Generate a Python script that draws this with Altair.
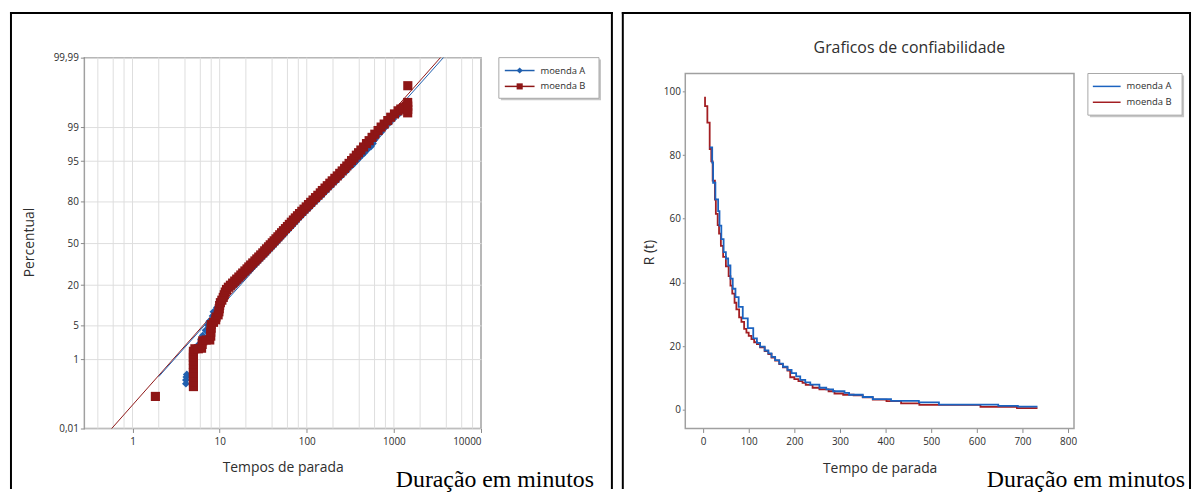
import altair as alt
import pandas as pd
from statistics import NormalDist

SERIES = ["moenda A", "moenda B"]
CAPTION = ["Duração em minutos"]
TITLE_RIGHT = ["Graficos de confiabilidade"]

# ---------------- Left panel: probability plot (minutes, cumulative %) ----------------
a_time = [4.1, 4.1, 4.15, 4.2, 5.0, 5.0, 5.0, 5.0, 5.6, 6.1, 6.4, 6.9, 7.3, 7.6, 8.3, 8.5, 9.3, 10.0, 10.6, 11.2, 12.3,
          14.1, 15.8, 17.6, 19.6, 21.8, 24.2, 26.9, 29.9, 33.2, 36.8, 40.8, 45.0, 49.6, 54.8, 60.5, 67.2, 74.5, 82.8,
          92.5, 104, 117, 132, 150, 170, 193, 220, 251, 287, 327, 350, 375, 400, 430, 460, 500, 545, 575, 605, 645,
          717, 800, 890, 985, 1120, 1250, 1330]
a_pct = [0.24, 0.3, 0.36, 0.42, 0.55, 0.8, 1.1, 1.5, 2.0, 2.7, 3.2, 4.0, 5.0, 5.8, 7.2, 8.4, 9.8, 11.5, 13.5, 15.5, 17.2,
         18.8, 21.1, 23.5, 26.1, 28.8, 31.6, 34.5, 37.5, 40.6, 43.8, 47.0, 50.2, 53.4, 56.6, 59.8, 63.0, 66.2, 69.3,
         72.3, 75.2, 78.0, 80.6, 83.1, 85.4, 87.5, 89.4, 91.1, 92.6, 93.9, 94.5, 95.1, 95.6, 96.1, 96.5, 97.0, 97.35,
         97.7, 98.1, 98.4, 98.7, 99.0, 99.2, 99.36, 99.5, 99.62, 99.7]

b_time = [1.83, 5.0, 5.0, 5.0, 5.0, 5.0, 5.0, 5.0, 5.0, 5.0, 5.0, 5.2, 5.7, 6.2, 6.3, 6.4, 7.0, 7.7, 7.9, 7.9, 8.0, 8.0,
          8.5, 9.0, 9.1, 9.6, 9.8, 9.9, 10.0, 10.2, 10.6, 11.0, 11.3, 11.6,
          12.0, 12.6, 13.3, 14.1, 14.9, 15.7, 16.6, 17.5, 18.4, 19.5, 20.6, 21.6, 22.7, 24.0, 25.4, 26.7, 28.1, 29.6,
          31.3, 32.9, 34.5, 36.4, 38.1, 40.2, 42.2, 44.3, 46.6, 48.9, 51.4, 54.0, 56.9, 60.0, 63.1, 66.5, 70.2, 73.9,
          78.2, 82.6, 87.7, 92.9, 98.6, 104.7, 111, 118, 126, 134, 143, 151, 162, 172, 184, 196, 210, 224, 239, 255,
          272, 288, 306, 327, 348, 371, 393, 418, 449, 485, 520, 562, 604, 659, 714, 774, 851, 920, 1016, 1117,
          1200, 1290, 1380, 1440, 1440, 1440, 1440, 1445]
b_pct = [0.105, 0.20, 0.27, 0.36, 0.47, 0.6, 0.75, 0.92, 1.1, 1.3, 1.5, 1.7, 1.7, 1.75, 2.1, 2.5, 2.6, 2.6, 3.1, 3.7,
         4.4, 5.1, 5.6, 6.2, 6.9, 7.5, 8.4, 9.4, 10.5, 11.6, 12.6, 13.8, 15.0, 16.3,
         17.6, 18.8, 19.9, 21.1, 22.3, 23.5, 24.8, 26.1, 27.4, 28.8, 30.2, 31.6, 33.0, 34.5, 36.0, 37.5, 39.0, 40.6,
         42.2, 43.8, 45.4, 47.0, 48.6, 50.2, 51.8, 53.4, 55.0, 56.6, 58.2, 59.8, 61.4, 63.0, 64.6, 66.2, 67.8, 69.3,
         70.8, 72.3, 73.8, 75.2, 76.6, 78.0, 79.3, 80.6, 81.9, 83.1, 84.3, 85.4, 86.5, 87.5, 88.5, 89.4, 90.3, 91.1,
         91.9, 92.6, 93.3, 93.9, 94.5, 95.1, 95.6, 96.1, 96.5, 96.9, 97.3, 97.7, 98.0, 98.3, 98.55, 98.8, 99.0, 99.15,
         99.3, 99.42, 99.52, 99.6,
         99.64, 99.67, 99.7, 99.55, 99.63, 99.7, 99.76, 99.92]

fit_a_time = [2.0, 3700.0]
fit_a_pct = [0.37, 99.99]
fit_b_time = [0.577, 3420.0]
fit_b_pct = [0.01, 99.99]

prob_x_ticks = [1, 10, 100, 1000, 10000]
prob_x_grid = [0.4, 0.6, 0.8, 1, 2, 4, 6, 8, 10, 20, 40, 60, 80, 100, 200, 400, 600, 800,
               1000, 2000, 4000, 6000, 8000]
prob_y_ticks = [0.01, 1, 5, 20, 50, 80, 95, 99, 99.99]

# ---------------- Right panel: reliability R(t) ----------------
rel_a_time = [14.5, 20, 22, 27, 33, 36, 40, 45, 50, 55, 60, 65, 71, 78, 87, 98, 110, 118, 125, 135, 143, 150, 158,
              167, 175, 185, 194, 204, 213, 224, 235, 255, 270, 285, 310, 320, 350, 372, 412, 473, 517, 647, 690, 733]
rel_a_r = [82.4, 77.6, 71.3, 66.1, 62.4, 57.8, 53.6, 49.5, 47.5, 45.3, 41.2, 38.0, 35.4, 32.3, 28.7, 25.6, 22.4, 21.0,
           19.8, 18.6, 17.7, 16.6, 15.6, 14.5, 13.5, 12.5, 11.5, 10.5, 9.4, 8.6, 7.9, 6.9, 6.4, 5.8, 5.3, 4.7, 4.0,
           3.3, 2.8, 2.3, 1.6, 1.2, 1.0, 1.0]
rel_b_time = [4.3, 4.3, 9.4, 14.5, 18, 21, 26, 28, 32, 35, 39, 44, 50, 56, 60, 64, 69, 73, 79, 84, 90, 95, 100, 106,
              112, 118, 125, 135, 143, 150, 158, 167, 175, 185, 191, 200, 209, 218, 225, 240, 255, 275, 288, 307, 330,
              350, 372, 402, 434, 474, 608, 688, 733]
rel_b_r = [98.3, 95.4, 90.2, 81.9, 78, 72, 66, 61.5, 58, 55.3, 51.5, 48, 45, 42, 39.0, 36.5, 33.6, 31.5, 29.0, 27.6,
           25.4, 24.2, 23.2, 22.2, 21.2, 20.6, 19.6, 18.4, 17.5, 16.4, 15.4, 14.3, 13.3, 12.3, 10.2, 9.6, 9.0, 8.4,
           7.8, 6.9, 6.4, 5.8, 5.1, 4.7, 4.5, 3.9, 3.2, 2.7, 2.0, 1.5, 0.9, 0.5, 0.5]
rel_x_ticks = [0, 100, 200, 300, 400, 500, 600, 700, 800]
rel_y_ticks = [0, 20, 40, 60, 80, 100]

# ---------------- styling ----------------
FONT = "Open Sans"
SERIF = "Liberation Serif"
TXT = "#2e2e2e"
BLUE = "#1f5fae"
RED = "#8e1616"
BLUE_L = "#1b63c0"
RED_L = "#a31e22"
BORDER = "#a0a0a0"

one = pd.DataFrame({"k": [0]})
leg_df = pd.DataFrame({"series": SERIES})
cap_df = pd.DataFrame({"caption": CAPTION})
title_df = pd.DataFrame({"title": TITLE_RIGHT})


def legend_layers(x0, x1, y0, y1, lx0, lx1, tx, rows):
    layers = [
        alt.Chart(one).mark_rect(fill="#c6c6c6").encode(
            x=alt.value(x0 + 2), x2=alt.value(x1 + 2), y=alt.value(y0 + 2), y2=alt.value(y1 + 2)),
        alt.Chart(one).mark_rect(fill="white", stroke="#a8a8a8", strokeWidth=1).encode(
            x=alt.value(x0), x2=alt.value(x1), y=alt.value(y0), y2=alt.value(y1)),
    ]
    for name, yy, color, shape in rows:
        layers.append(alt.Chart(one).mark_rule(color=color, strokeWidth=1.5).encode(
            x=alt.value(lx0), x2=alt.value(lx1), y=alt.value(yy)))
        if shape:
            layers.append(alt.Chart(one).mark_point(filled=True, shape=shape, size=38, color=color, opacity=1).encode(
                x=alt.value((lx0 + lx1) / 2), y=alt.value(yy)))
        layers.append(alt.Chart(leg_df).transform_filter(alt.datum.series == name).mark_text(
            align="left", baseline="middle", font=FONT, fontSize=9.5, color=TXT).encode(
            x=alt.value(tx), y=alt.value(yy), text="series:N"))
    return layers


def frame_layers(xl, xr, yt, yb):
    style = dict(color="black", strokeWidth=2, strokeCap="square")
    return [
        alt.Chart(one).mark_rule(**style).encode(x=alt.value(xl), y=alt.value(yt), y2=alt.value(yb)),
        alt.Chart(one).mark_rule(**style).encode(x=alt.value(xl), x2=alt.value(xr), y=alt.value(yt)),
        alt.Chart(one).mark_rule(**style).encode(x=alt.value(xr), y=alt.value(yt), y2=alt.value(yb)),
    ]


W, H = 400, 374          # left plot area
W2 = 392                 # right plot area width (same height, inner box starts lower)
FRAME_BOTTOM = 434       # frames run down to the page edge
CAP_Y = 433              # caption baseline

# ---------------- left chart ----------------
nd = NormalDist()
Z_LO = nd.inv_cdf(0.0001)
Z_HI = nd.inv_cdf(0.9999)
tick_z = [nd.inv_cdf(v / 100.0) for v in prob_y_ticks]

xs = alt.Scale(type="log", domain=[0.28, 10000], nice=False)
ys = alt.Scale(domain=[Z_LO, Z_HI], nice=False, zero=False)
x_axis = alt.Axis(values=prob_x_ticks, labelExpr="format(datum.value, 'd')", title="Tempos de parada",
                  titleY=43, titleBaseline="alphabetic", tickSize=4, labelPadding=4, grid=False)
y_axis = alt.Axis(values=tick_z,
                  labelExpr="replace(format(cumulativeNormal(datum.value) * 100, '.2~f'), '.', ',')",
                  title="Percentual", titleX=-55, titleY=186, titleBaseline="middle",
                  grid=True, gridColor="#dedede", tickSize=4, labelPadding=2)

X1 = alt.X("t:Q", scale=xs, axis=x_axis)
Y1 = alt.Y("z:Q", scale=ys, axis=y_axis)
ZCALC = "quantileNormal(datum.p / 100)"

grid_v = alt.Chart(pd.DataFrame({"t": prob_x_grid})).mark_rule(color="#dedede", strokeWidth=1).encode(
    x=X1, y=alt.value(0), y2=alt.value(H))
fit_b = alt.Chart(pd.DataFrame({"t": fit_b_time, "p": fit_b_pct})).transform_calculate(z=ZCALC).mark_line(
    color=RED, strokeWidth=1).encode(x=X1, y=Y1)
fit_a = alt.Chart(pd.DataFrame({"t": fit_a_time, "p": fit_a_pct})).transform_calculate(z=ZCALC).mark_line(
    color=BLUE, strokeWidth=1).encode(x=X1, y=Y1)
pts_a = alt.Chart(pd.DataFrame({"t": a_time, "p": a_pct})).transform_calculate(z=ZCALC).mark_point(
    filled=True, shape="diamond", size=62, color=BLUE, opacity=1).encode(x=X1, y=Y1)
pts_b = alt.Chart(pd.DataFrame({"t": b_time, "p": b_pct})).transform_calculate(z=ZCALC).mark_point(
    filled=True, shape="square", size=85, color=RED, opacity=1).encode(x=X1, y=Y1)
cap_left = alt.Chart(cap_df).mark_text(font=SERIF, fontSize=24, align="center", baseline="alphabetic",
                                       color="black").encode(x=alt.value(414), y=alt.value(CAP_Y), text="caption:N")

left = alt.layer(
    grid_v, fit_b, fit_a, pts_a, pts_b,
    *legend_layers(418, 519, 0, 41, 424, 454, 460,
                   [(SERIES[0], 13, BLUE, "diamond"), (SERIES[1], 29, RED, "square")]),
    *frame_layers(-74, 532, -45, FRAME_BOTTOM),
    cap_left,
).properties(width=W, height=H)

# ---------------- right chart ----------------
BOX_TOP = 16  # inner plot box starts 16px below the shared top
rxs = alt.Scale(domain=[-39, 813], nice=False, zero=False)
rys = alt.Scale(domain=[-5.9, 110.6], nice=False, zero=False)
rx_axis = alt.Axis(values=rel_x_ticks, title="Tempo de parada", titleY=44, titleBaseline="alphabetic",
                   tickSize=4, labelPadding=4, grid=False)
ry_axis = alt.Axis(values=rel_y_ticks, title="R (t)", titleX=-36, titleY=196, titleBaseline="middle",
                   tickSize=3, labelPadding=2, grid=False)


def rel_df(t, r):
    return pd.DataFrame({"t": t, "r": r, "i": list(range(len(t)))})


box_right = alt.Chart(one).mark_rect(fill="white", stroke=BORDER, strokeWidth=1.5).encode(
    x=alt.value(0), x2=alt.value(W2), y=alt.value(BOX_TOP), y2=alt.value(H))
curve_b = alt.Chart(rel_df(rel_b_time, rel_b_r)).mark_line(interpolate="step-after", color=RED_L,
                                                             strokeWidth=1.8).encode(
    x=alt.X("t:Q", scale=rxs, axis=rx_axis), y=alt.Y("r:Q", scale=rys, axis=ry_axis), order="i:Q")
curve_a = alt.Chart(rel_df(rel_a_time, rel_a_r)).mark_line(interpolate="step-after", color=BLUE_L,
                                                             strokeWidth=1.8).encode(
    x=alt.X("t:Q", scale=rxs, axis=rx_axis), y=alt.Y("r:Q", scale=rys, axis=ry_axis), order="i:Q")
title_right = alt.Chart(title_df).mark_text(font=FONT, fontSize=16, align="center", baseline="alphabetic",
                                            color=TXT).encode(x=alt.value(226), y=alt.value(-5), text="title:N")
cap_right = alt.Chart(cap_df).mark_text(font=SERIF, fontSize=24, align="center", baseline="alphabetic",
                                        color="black").encode(x=alt.value(404), y=alt.value(CAP_Y), text="caption:N")

right = alt.layer(
    box_right, curve_b, curve_a,
    *legend_layers(406, 501, BOX_TOP, BOX_TOP + 42, 411, 439, 445,
                   [(SERIES[0], BOX_TOP + 13, BLUE_L, None), (SERIES[1], BOX_TOP + 29, RED_L, None)]),
    *frame_layers(-63, 509, -45, FRAME_BOTTOM),
    title_right,
    cap_right,
).properties(width=W2, height=H, view=alt.ViewBackground(stroke=None))

chart = alt.hconcat(left, right, spacing=6).properties(padding=0, background="white").configure_view(
    stroke=BORDER, strokeWidth=1.5
).configure_axis(
    labelFont=FONT, titleFont=FONT, labelFontSize=10, titleFontSize=14, labelColor=TXT, titleColor=TXT,
    titleFontWeight="normal", tickColor="#8a8a8a", domain=False
)

chart.save("out.html", embed_options={"renderer": "svg", "actions": False})
